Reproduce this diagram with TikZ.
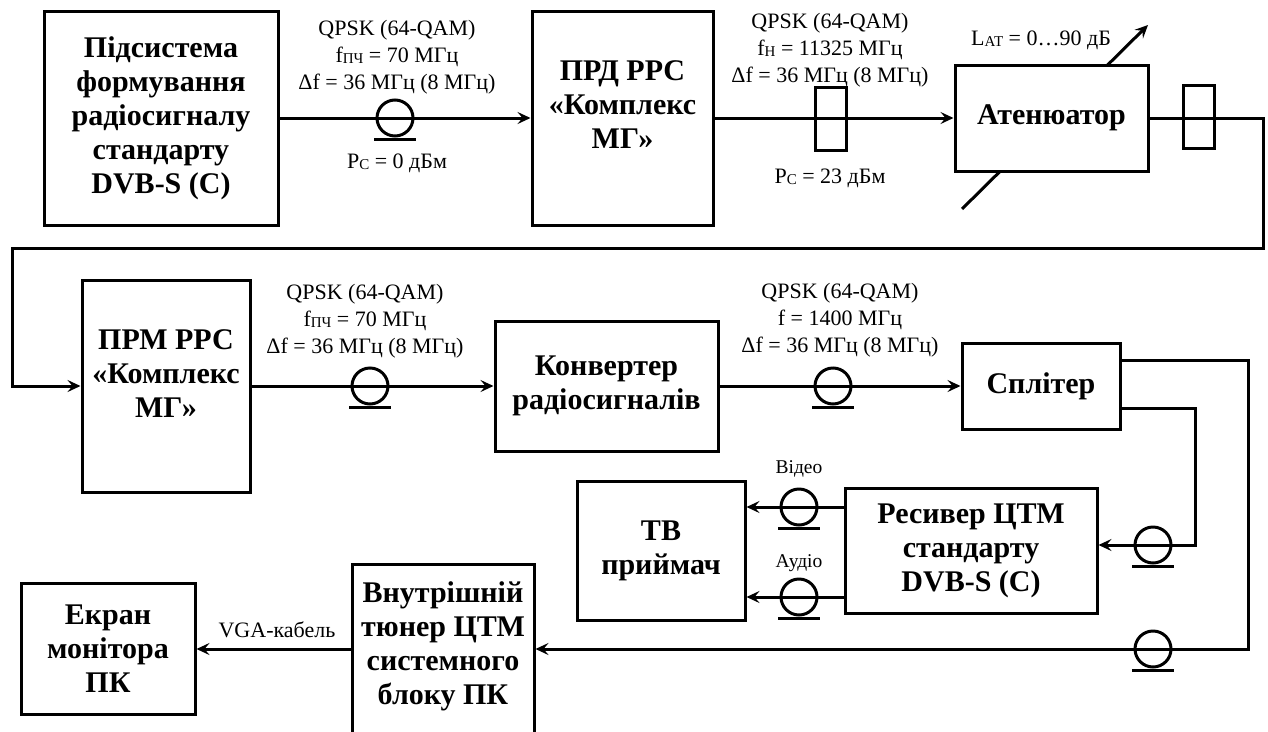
\documentclass[tikz,border=0pt]{standalone}
\usepackage{fontspec}
\setmainfont{Liberation Serif}
\usetikzlibrary{arrows.meta}
\newcommand\blkfont{\fontsize{30}{34}\selectfont\bfseries}
\newcommand\lblfont{\fontsize{22}{27}\selectfont}
\newcommand\smlfont{\fontsize{19.5}{22}\selectfont}
\newcommand\sbs[1]{\raisebox{-1.5pt}{\fontsize{15}{15}\selectfont #1}}
\begin{document}
\begin{tikzpicture}[x=1pt,y=-1pt,
  blk/.style={draw, line width=3pt, fill=white, inner sep=0pt, align=center, font=\blkfont},
  btxt/.style={inner sep=0pt, align=center, font=\blkfont},
  lbl/.style={inner sep=0pt, align=center, font=\lblfont},
  sml/.style={inner sep=0pt, align=center, font=\smlfont},
  conn/.style={line width=3pt, -{Stealth[length=13pt,width=12pt,inset=5pt]}},
  wg/.style={draw, line width=3pt, inner sep=0pt, minimum width=31, minimum height=63},
  spool/.pic={\draw[line width=3pt] (0,0) circle[radius=18];
              \draw[line width=3pt] (-21,21) -- (21,21);}
]
\useasboundingbox (0,0) rectangle (1268,731);

% attenuator adjustment arrow (behind the box)
\coordinate (adjA) at (962,209);
\coordinate (adjB) at (1148,25);
\draw[conn] (adjA) -- (adjB);

% blocks
\node[blk, minimum width=234, minimum height=214] (src) at (161,118)
  {Підсистема\\формування\\радіосигналу\\стандарту\\DVB-S (C)};
\node[blk, minimum width=181, minimum height=214] (prd) at (622.5,118) {};
\node[btxt] (prdT) at (622.5,105) {ПРД РРС\\«Комплекс\\МГ»};
\node[blk, minimum width=193, minimum height=106] (att) at (1051.5,118) {Атенюатор};
\node[blk, minimum width=168, minimum height=212] (prm) at (166,386) {};
\node[btxt] (prmT) at (166,374) {ПРМ РРС\\«Комплекс\\МГ»};
\node[blk, minimum width=223, minimum height=130] (konv) at (606.5,386) {Конвертер\\радіосигналів};
\node[blk, minimum width=158, minimum height=86] (spl) at (1041,386) {Сплітер};
\node[blk, minimum width=252, minimum height=125] (rcv) at (971,550.5) {Ресивер ЦТМ\\стандарту\\DVB-S (C)};
\node[blk, minimum width=168, minimum height=139] (tv) at (661,550.5) {ТВ\\приймач};
\node[blk, minimum width=182, minimum height=170] (tun) at (443,649) {};
\node[btxt] (tunT) at (443,646) {Внутрішній\\тюнер ЦТМ\\системного\\блоку ПК};
\node[blk, minimum width=174, minimum height=131] (scr) at (108,648.5) {Екран\\монітора\\ПК};

% connectors
\draw[conn] (src.east) -- (src.east -| prd.west);
\draw[conn] (prd.east) -- (prd.east -| att.west);
\draw[conn] (att.east) -- ++(114,0) |- (12,248) |- (prm.west);
\draw[conn] (prm.east) -- (prm.east -| konv.west);
\draw[conn] (konv.east) -- (konv.east -| spl.west);
\coordinate (so1) at ([yshift=26pt]spl.east);
\coordinate (so2) at ([yshift=-22pt]spl.east);
\coordinate (ri) at ([yshift=5.5pt]rcv.east);
\draw[conn] (so1) -- ++(127,0) |- (tun.east);
\draw[conn] (so2) -- ++(74,0) |- (ri);
\coordinate (rv) at ([yshift=43.5pt]rcv.west);
\coordinate (ra) at ([yshift=-46.5pt]rcv.west);
\draw[conn] (rv) -- (rv -| tv.east);
\draw[conn] (ra) -- (ra -| tv.east);
\draw[conn] (tun.west) -- (tun.west -| scr.east);

% line elements
\node[wg] (wg1) at (830.5,118.5) {};
\node[wg] (wg2) at (1199,116.5) {};
\pic at (395,118) {spool};
\pic at (370,386) {spool};
\pic at (833,386) {spool};
\pic at (1153,545) {spool};
\pic at (1153,649) {spool};
\pic at (799,507) {spool};
\pic at (799,597) {spool};

% labels
\node[lbl] (l1) at (397,57) {QPSK (64-QAM)\\f\sbs{ПЧ} = 70 МГц\\Δf = 36 МГц (8 МГц)};
\node[lbl] (p1) at (397,163) {P\sbs{С} = 0 дБм};
\node[lbl] (l2) at (830,50) {QPSK (64-QAM)\\f\sbs{Н} = 11325 МГц\\Δf = 36 МГц (8 МГц)};
\node[lbl] (p2) at (830,178) {P\sbs{С} = 23 дБм};
\node[lbl] (lat) at (1041,40) {L\sbs{АТ} = 0…90 дБ};
\node[lbl] (l3) at (365,321) {QPSK (64-QAM)\\f\sbs{ПЧ} = 70 МГц\\Δf = 36 МГц (8 МГц)};
\node[lbl] (l4) at (840,320) {QPSK (64-QAM)\\f = 1400 МГц\\Δf = 36 МГц (8 МГц)};
\node[sml] (vid) at (799,469) {Відео};
\node[sml] (aud) at (799,563) {Аудіо};
\node[lbl, font=\fontsize{22}{24}\selectfont] (vga) at (277,630) {VGA-кабель};
\end{tikzpicture}
\end{document}
